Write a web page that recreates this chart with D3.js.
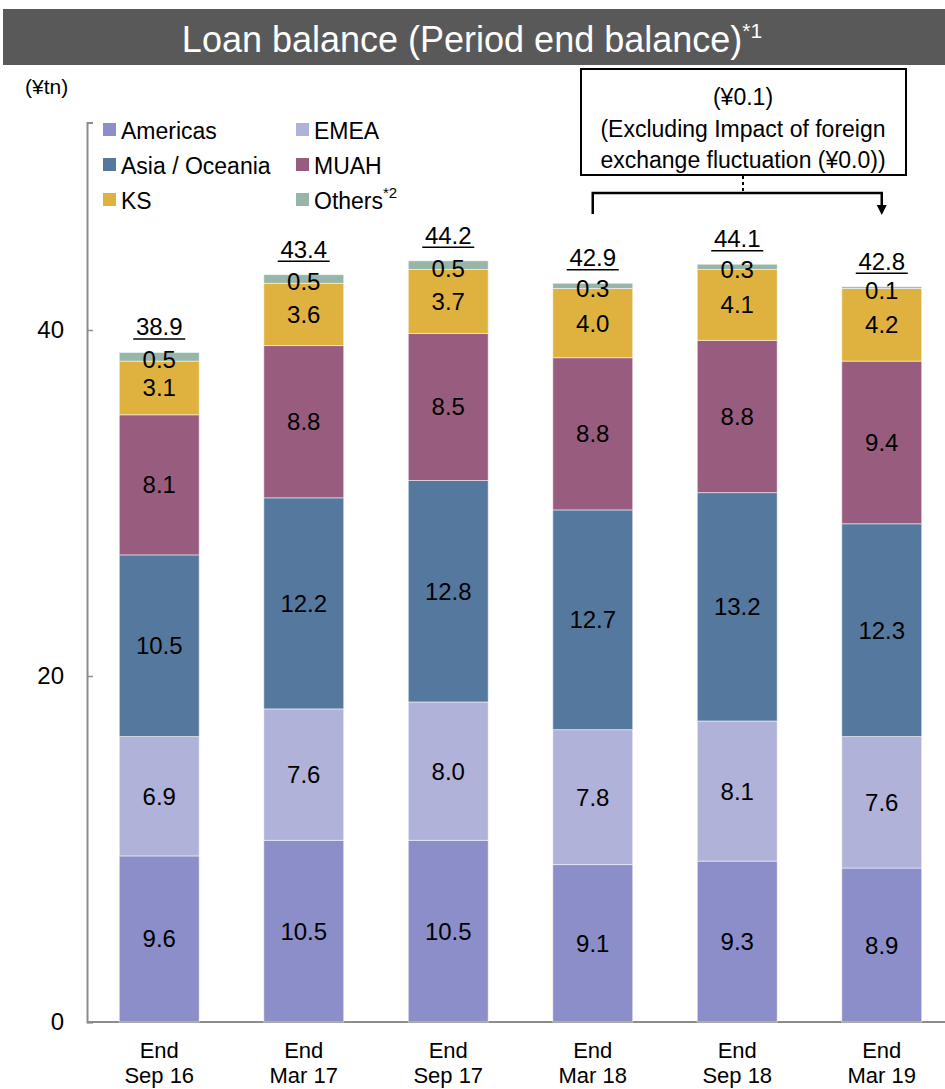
<!DOCTYPE html>
<html>
<head>
<meta charset="utf-8">
<script src="https://cdn.jsdelivr.net/npm/d3@7"></script>
<style>
  body { margin: 0; background: #fff; }
  text { font-family: "Liberation Sans", Arial, sans-serif; }
</style>
</head>
<body>
<div id="chart"></div>
<script>
// Categories (periods) and series values, in ¥tn
var periods = [['End', 'Sep 16'], ['End', 'Mar 17'], ['End', 'Sep 17'], ['End', 'Mar 18'], ['End', 'Sep 18'], ['End', 'Mar 19']];
var seriesNames = ['Americas', 'EMEA', 'Asia / Oceania', 'MUAH', 'KS', 'Others'];
var americas = [9.6, 10.5, 10.5, 9.1, 9.3, 8.9];
var emea = [6.9, 7.6, 8.0, 7.8, 8.1, 7.6];
var asiaOceania = [10.5, 12.2, 12.8, 12.7, 13.2, 12.3];
var muah = [8.1, 8.8, 8.5, 8.8, 8.8, 9.4];
var ks = [3.1, 3.6, 3.7, 4.0, 4.1, 4.2];
var others = [0.5, 0.5, 0.5, 0.3, 0.3, 0.1];
var totals = ['38.9', '43.4', '44.2', '42.9', '44.1', '42.8'];
var yTicks = [0, 20, 40];

var colors = ['#8b8ec8', '#b0b2da', '#55799e', '#985d7e', '#dfb23f', '#97b5a8'];

var width = 945, height = 1089;
var margin = { left: 87, bottom: 1022 };

var svg = d3.select('#chart').append('svg')
  .attr('width', width)
  .attr('height', height);

// Title bar
svg.append('rect')
  .attr('x', 3).attr('y', 9)
  .attr('width', 942).attr('height', 56)
  .attr('fill', '#595959');
var title = svg.append('text')
  .attr('x', 472).attr('y', 52)
  .attr('text-anchor', 'middle')
  .attr('fill', '#fff')
  .style('font-size', '36px');
title.append('tspan').text('Loan balance (Period end balance)');
title.append('tspan').attr('dy', -14).style('font-size', '21px').text('*1');

// Scales
var x = d3.scaleBand()
  .domain(d3.range(periods.length))
  .range([margin.left, 954])
  .paddingInner(0.447)
  .paddingOuter(0.2235);

var y = d3.scaleLinear()
  .domain([0, 52])
  .range([margin.bottom, margin.bottom - 52 * 17.3]);

// Stack data
var rows = periods.map(function (p, i) {
  return { i: i, s0: americas[i], s1: emea[i], s2: asiaOceania[i], s3: muah[i], s4: ks[i], s5: others[i] };
});
var keys = ['s0', 's1', 's2', 's3', 's4', 's5'];
var stacked = d3.stack().keys(keys)(rows);

// Axes
var yAxis = svg.append('g')
  .attr('transform', 'translate(' + margin.left + ',0)')
  .call(d3.axisRight(y).tickValues(yTicks).tickSize(6).tickFormat(''));
yAxis.select('.domain').attr('stroke', '#8c8c8c').attr('stroke-width', 2);
yAxis.selectAll('.tick line').attr('stroke', '#8c8c8c').attr('stroke-width', 1.5);

svg.selectAll('.ylab')
  .data(yTicks)
  .enter().append('text')
  .attr('x', 64)
  .attr('y', function (d) { return y(d) + 8; })
  .attr('text-anchor', 'end')
  .style('font-size', '24px')
  .text(function (d) { return d; });

svg.append('line')
  .attr('x1', margin.left).attr('x2', 945)
  .attr('y1', margin.bottom).attr('y2', margin.bottom)
  .attr('stroke', '#8c8c8c').attr('stroke-width', 2);

svg.append('text')
  .attr('x', 25).attr('y', 94)
  .style('font-size', '21px')
  .text('(¥tn)');

// Bars
var layers = svg.selectAll('.layer')
  .data(stacked)
  .enter().append('g')
  .attr('class', 'layer')
  .attr('fill', function (d, k) { return colors[k]; });

layers.selectAll('rect')
  .data(function (d) { return d; })
  .enter().append('rect')
  .attr('x', function (d) { return x(d.data.i); })
  .attr('y', function (d) { return y(d[1]); })
  .attr('width', x.bandwidth())
  .attr('height', function (d) { return y(d[0]) - y(d[1]); })
  .attr('stroke', '#fff')
  .attr('stroke-opacity', 0.5)
  .attr('stroke-width', 1);

// Segment labels
layers.selectAll('.seg')
  .data(function (d) { return d.map(function (v) { return { v: v, key: d.key }; }); })
  .enter().append('text')
  .attr('x', function (d) { return x(d.v.data.i) + x.bandwidth() / 2; })
  .attr('y', function (d) {
    var mid = (y(d.v[0]) + y(d.v[1])) / 2;
    return mid + 8.5 + (d.key === 's5' ? 3 : 0);
  })
  .attr('text-anchor', 'middle')
  .attr('fill', '#000')
  .style('font-size', '24px')
  .text(function (d) { return (d.v[1] - d.v[0]).toFixed(1); });

// Totals (underlined)
var last = stacked[stacked.length - 1];
var tot = svg.selectAll('.total')
  .data(last)
  .enter().append('g')
  .attr('class', 'total');
tot.append('text')
  .attr('x', function (d) { return x(d.data.i) + x.bandwidth() / 2; })
  .attr('y', function (d) { return y(d[1]) - 17; })
  .attr('text-anchor', 'middle')
  .style('font-size', '24px')
  .text(function (d, i) { return totals[i]; });
tot.append('line')
  .attr('x1', function (d) { return x(d.data.i) + x.bandwidth() / 2 - 26; })
  .attr('x2', function (d) { return x(d.data.i) + x.bandwidth() / 2 + 26; })
  .attr('y1', function (d) { return y(d[1]) - 13.5; })
  .attr('y2', function (d) { return y(d[1]) - 13.5; })
  .attr('stroke', '#000').attr('stroke-width', 1.5);

// X labels
var xl = svg.selectAll('.xlab')
  .data(periods)
  .enter().append('text')
  .attr('text-anchor', 'middle')
  .style('font-size', '22px');
xl.append('tspan')
  .attr('x', function (d, i) { return x(i) + x.bandwidth() / 2; })
  .attr('y', 1058)
  .text(function (d) { return d[0]; });
xl.append('tspan')
  .attr('x', function (d, i) { return x(i) + x.bandwidth() / 2; })
  .attr('y', 1083)
  .text(function (d) { return d[1]; });

// Legend
var legend = svg.selectAll('.legend')
  .data(seriesNames)
  .enter().append('g')
  .attr('transform', function (d, i) {
    return 'translate(' + (i % 2 === 0 ? 103 : 296) + ',' + (130 + Math.floor(i / 2) * 35) + ')';
  });
legend.append('rect')
  .attr('x', 0).attr('y', -7)
  .attr('width', 13).attr('height', 13)
  .attr('fill', function (d, i) { return colors[i]; });
var lt = legend.append('text')
  .attr('x', 18).attr('y', 8.5)
  .style('font-size', '23px')
  .text(function (d) { return d; });
lt.filter(function (d) { return d === 'Others'; })
  .append('tspan')
  .attr('dy', -11)
  .style('font-size', '15px')
  .text('*2');

// Annotation box
svg.append('rect')
  .attr('x', 581).attr('y', 69)
  .attr('width', 325).attr('height', 106)
  .attr('fill', '#fff').attr('stroke', '#000').attr('stroke-width', 2);
var noteLines = ['(¥0.1)', '(Excluding Impact of foreign', 'exchange fluctuation (¥0.0))'];
svg.selectAll('.note')
  .data(noteLines)
  .enter().append('text')
  .attr('x', 743)
  .attr('y', function (d, i) { return 105 + i * 31.5; })
  .attr('text-anchor', 'middle')
  .style('font-size', '23px')
  .text(function (d) { return d; });

var xa = x(3) + x.bandwidth() / 2, xb = x(5) + x.bandwidth() / 2;
svg.append('line')
  .attr('x1', 743).attr('x2', 743).attr('y1', 176).attr('y2', 193)
  .attr('stroke', '#000').attr('stroke-width', 2).attr('stroke-dasharray', '3,3');
svg.append('path')
  .attr('d', 'M' + xa + ',214 V193 H' + xb + ' V207')
  .attr('fill', 'none').attr('stroke', '#000').attr('stroke-width', 2.5);
svg.append('path')
  .attr('d', 'M' + (xb - 5) + ',205 L' + (xb + 5) + ',205 L' + xb + ',215 Z')
  .attr('fill', '#000');
</script>
</body>
</html>
